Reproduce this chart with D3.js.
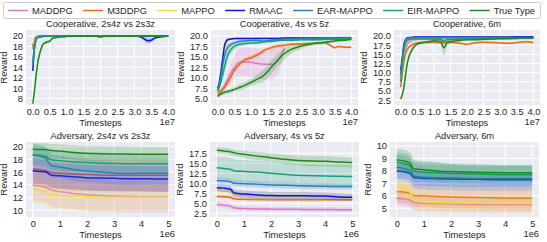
<!DOCTYPE html>
<html><head><meta charset="utf-8">
<script src="https://cdn.jsdelivr.net/npm/d3@7"></script>
<style>
body{margin:0;background:#fff}
svg{display:block}
text{font-family:"Liberation Sans",Arial,sans-serif;fill:#262626;font-size:9.3px}
</style>
</head><body>
<svg id="chart" width="547" height="242"></svg>
<script>
// ---------------- DATA ----------------
const methods = ["MADDPG","M3DDPG","MAPPO","RMAAC","EAR-MAPPO","EIR-MAPPO","True Type"];
const colors  = ["#dc78c2","#e8691c","#f2df3a","#0b16e6","#2a7fc0","#14a07a","#188c18"];

const panelTitles = ["Cooperative, 2s4z vs 2s3z","Cooperative, 4s vs 5z","Cooperative, 6m",
                     "Adversary, 2s4z vs 2s3z","Adversary, 4s vs 5z","Adversary, 6m"];

// timesteps (x1e7) for cooperative runs, (x1e6) for adversary runs
const coopX = [0,0.05,0.1,0.15,0.2,0.25,0.3,0.4,0.5,0.6,0.8,1.0,1.2,1.3,1.4,1.6,1.8,2.0,2.2,2.5,2.8,3.0,3.2,3.4,3.5,3.6,3.8,4.0];
const advX  = [0,0.25,0.5,0.6,0.7,1,1.5,2,2.5,3,3.5,4,4.5,5];

const coopXTicks = [0,0.5,1,1.5,2,2.5,3,3.5,4];
const advXTicks  = [0,1,2,3,4,5];
const yTicks = [
  [8,10,12,14,16,18,20],
  [5,7.5,10,12.5,15,17.5,20],
  [2.5,5,7.5,10,12.5,15,17.5,20],
  [10,12,14,16,18,20],
  [2.5,5,7.5,10,12.5,15,17.5],
  [5,6,7,8,9,10]
];

// ---- Cooperative, 2s4z vs 2s3z (mean) in method order
const coop2s4zMean = [
 [17.5,19.3,19.8,19.9,20,20,20,20,20,20,20,20,20,20,20,20,20,19.9,20,20,20,20,20,20,20,20,20,20],
 [18,19.4,19.8,19.95,20,20,20,20,20,20,20,20,20,20,20,20,20,19.9,20,20,20,20,20,20,20,20,20,20],
 [18.5,19.2,19.6,19.8,19.9,19.95,20,20,20,20,20,20,20,20,20,20,20,19.9,20,20,20,20,20,20,20,20,19.9,20],
 [13.3,17.5,19.4,19.7,19.8,19.85,19.9,19.95,20,20,20,20,20,20,20,20,20,19.9,20,20,19.95,20,19.8,19.1,19.2,19.6,19.85,20],
 [14.5,18.2,19.5,19.8,19.9,20,20,20,20,20,20,20,20,20,20,20,20,19.9,20,20,20,20,20,20,20,20,20,20],
 [15,17.8,19.3,19.7,19.9,19.95,20,20,20,20,20,20,20,20,20,20,20,19.9,20,20,20,20,20,20,20,20,20,20],
 [7,9.5,12.5,15,16.5,17.6,18.4,18.8,19.0,19.6,19.8,19.9,20,20,20,20,20,19.9,20,20,20,20,20,20,20,20,20,20]
];
const coop2s4zStd = [
 [0.4,0.3,0.1,0.1,0.1,0.1,0.1,0.1,0.1,0.1,0.1,0.1,0.1,0.1,0.1,0.1,0.1,0.1,0.1,0.1,0.1,0.1,0.1,0.1,0.1,0.1,0.1,0.1],
 [0.4,0.3,0.1,0.1,0.1,0.1,0.1,0.1,0.1,0.1,0.1,0.1,0.1,0.1,0.1,0.1,0.1,0.1,0.1,0.1,0.1,0.1,0.1,0.1,0.1,0.1,0.1,0.1],
 [0.4,0.3,0.2,0.1,0.1,0.1,0.1,0.1,0.1,0.1,0.1,0.1,0.1,0.1,0.1,0.1,0.1,0.1,0.1,0.1,0.1,0.1,0.1,0.1,0.1,0.1,0.1,0.1],
 [0.6,0.6,0.3,0.2,0.1,0.1,0.1,0.1,0.1,0.1,0.1,0.1,0.1,0.1,0.1,0.1,0.1,0.1,0.1,0.1,0.1,0.1,0.3,0.6,0.5,0.3,0.1,0.1],
 [0.6,0.5,0.3,0.2,0.1,0.1,0.1,0.1,0.1,0.1,0.1,0.1,0.1,0.1,0.1,0.1,0.1,0.1,0.1,0.1,0.1,0.1,0.1,0.1,0.1,0.1,0.1,0.1],
 [0.6,0.5,0.3,0.2,0.1,0.1,0.1,0.1,0.1,0.1,0.1,0.1,0.1,0.1,0.1,0.1,0.1,0.1,0.1,0.1,0.1,0.1,0.1,0.1,0.1,0.1,0.1,0.1],
 [0.3,0.5,0.6,0.6,0.5,0.4,0.3,0.3,0.3,0.2,0.1,0.1,0.1,0.1,0.1,0.1,0.1,0.1,0.1,0.1,0.1,0.1,0.1,0.1,0.1,0.1,0.1,0.1]
];

// ---- Cooperative, 4s vs 5z
const coop4sMean = [
 [5.5,6.0,6.5,7.2,8.0,8.8,9.6,11.2,12.5,13.5,13.8,13.7,13.4,13.3,13.2,13.2,14.2,17.0,null,null,null,null,null,null,null,null,null,null],
 [6.0,6.5,7.0,7.3,7.6,8.2,8.8,10.3,11.8,12.8,14.2,14.8,15.5,16.0,16.6,17.2,17.6,17.8,18.0,18.1,18.2,18.3,18.4,17.6,17.2,17.5,17.3,17.3],
 [6.5,8.0,10.0,13.0,15.8,17.6,18.6,19.2,19.3,19.4,19.4,19.4,19.5,19.5,19.5,19.5,19.5,19.5,19.5,19.5,19.5,19.5,19.5,19.5,19.5,19.5,19.5,19.5],
 [7.5,9.0,11.5,14.5,17.5,18.7,19.1,19.3,19.4,19.4,19.4,19.4,19.4,19.4,19.4,19.4,19.4,19.5,19.5,19.5,19.5,19.5,19.5,19.5,19.5,19.6,19.6,19.6],
 [7.1,8.5,10.5,13.0,15.0,16.4,17.2,18.0,18.4,18.6,18.8,18.9,18.9,18.8,18.8,19.0,19.1,19.3,19.3,19.4,19.4,19.4,19.5,19.5,19.5,19.5,19.6,19.6],
 [6.7,7.8,9.2,10.7,12.5,14.0,15.4,16.8,17.5,17.9,18.2,18.3,18.4,18.5,18.6,18.7,18.9,19.0,19.0,19.1,19.1,19.1,19.2,19.2,19.2,19.2,19.3,19.3],
 [5.5,5.8,6.1,6.3,6.5,6.6,6.7,6.9,7.2,7.5,8.1,8.9,9.7,10.1,10.7,12.5,14.2,15.8,16.8,17.6,18.1,18.3,18.5,18.7,18.8,18.9,19.0,19.2]
];
const coop4sStd = [
 [0.3,0.4,0.5,0.7,1.0,1.3,1.6,2.2,2.8,3.2,3.5,3.6,3.6,3.6,3.6,3.6,3.2,1.0,null,null,null,null,null,null,null,null,null,null],
 [0.5,0.6,0.7,0.7,0.8,0.8,0.8,0.8,0.8,0.7,0.6,0.6,0.6,0.6,0.6,0.5,0.5,0.5,0.4,0.3,0.3,0.3,0.3,0.3,0.3,0.3,0.3,0.3],
 [0.3,0.3,0.3,0.3,0.3,0.3,0.3,0.2,0.2,0.2,0.2,0.2,0.2,0.2,0.2,0.2,0.2,0.2,0.2,0.2,0.2,0.2,0.2,0.2,0.2,0.2,0.2,0.2],
 [0.3,0.5,0.8,0.8,0.6,0.4,0.3,0.2,0.2,0.2,0.2,0.2,0.2,0.2,0.2,0.2,0.2,0.2,0.2,0.2,0.2,0.2,0.2,0.2,0.2,0.2,0.2,0.2],
 [0.3,0.6,1.0,1.2,1.2,1.0,0.8,0.6,0.5,0.4,0.3,0.3,0.3,0.3,0.3,0.3,0.3,0.3,0.3,0.3,0.3,0.3,0.3,0.3,0.3,0.3,0.3,0.3],
 [0.3,0.6,1.0,1.3,1.5,1.5,1.3,1.0,0.8,0.6,0.5,0.4,0.4,0.4,0.4,0.4,0.3,0.3,0.3,0.3,0.3,0.3,0.3,0.3,0.3,0.3,0.3,0.3],
 [0.3,0.4,0.5,0.5,0.5,0.5,0.5,0.6,0.6,0.7,0.8,0.9,1.1,1.3,1.5,1.6,1.6,1.4,1.0,0.7,0.5,0.4,0.4,0.4,0.4,0.4,0.4,0.4]
];

// ---- Cooperative, 6m
const coop6mMean = [
 [8.5,11.5,14.5,16.5,17.8,18.3,18.6,18.9,19.1,19.2,19.2,19.3,19.3,19.3,19.3,19.3,19.3,19.3,19.3,19.3,19.4,19.4,19.4,19.4,19.4,19.4,19.4,19.4],
 [6.0,9.5,13.0,15.2,16.3,16.9,17.3,17.8,18.1,18.2,18.2,18.3,18.2,18.2,18.3,18.2,18.0,17.7,18.1,18.3,18.2,18.1,18.0,18.1,18.2,18.3,18.4,18.2],
 [8.0,12.0,15.5,17.5,18.5,18.8,19.0,19.1,19.2,19.2,19.2,19.3,19.3,19.3,19.3,19.3,19.3,19.3,19.3,19.3,19.3,19.3,19.3,19.3,19.3,19.3,19.3,19.3],
 [10.6,14.0,17.7,19.0,19.5,19.6,19.6,19.7,19.7,19.7,19.7,19.7,19.7,19.7,19.7,19.7,19.7,19.7,19.7,19.7,19.7,19.7,19.7,19.8,19.8,19.8,19.8,19.8],
 [9.5,13.5,17.0,18.8,19.3,19.4,19.5,19.5,19.5,19.5,19.5,19.5,19.5,19.5,19.5,19.5,19.5,19.5,19.5,19.5,19.5,19.6,19.6,19.6,19.6,19.6,19.6,19.6],
 [7.5,12.0,16.0,18.0,18.8,19.0,19.1,19.2,19.2,19.2,19.2,19.2,19.1,18.6,19.0,19.1,19.2,19.2,19.2,19.3,19.3,19.3,19.3,19.3,19.3,19.4,19.4,19.4],
 [2.8,4.0,6.0,9.5,12.5,14.3,15.5,17.0,17.8,18.1,18.4,18.7,18.6,16.8,18.1,18.6,18.8,19.0,19.0,19.1,19.2,19.3,19.3,19.4,19.4,19.5,19.5,19.6]
];
const coop6mStd = [
 [0.6,0.8,0.9,0.9,0.8,0.8,0.7,0.6,0.5,0.5,0.4,0.3,0.3,0.3,0.3,0.3,0.3,0.3,0.3,0.3,0.3,0.3,0.3,0.3,0.3,0.3,0.3,0.3],
 [0.5,0.6,0.6,0.5,0.5,0.4,0.3,0.3,0.3,0.3,0.3,0.3,0.3,0.3,0.3,0.3,0.3,0.3,0.3,0.3,0.3,0.3,0.3,0.3,0.3,0.3,0.3,0.3],
 [0.5,0.6,0.6,0.5,0.4,0.4,0.4,0.4,0.4,0.4,0.4,0.3,0.3,0.3,0.3,0.3,0.3,0.3,0.3,0.3,0.3,0.3,0.3,0.3,0.3,0.3,0.3,0.3],
 [0.5,0.6,0.5,0.3,0.2,0.2,0.2,0.2,0.2,0.2,0.2,0.2,0.2,0.2,0.2,0.2,0.2,0.2,0.2,0.2,0.2,0.2,0.2,0.2,0.2,0.2,0.2,0.2],
 [0.5,0.6,0.5,0.3,0.2,0.2,0.2,0.2,0.2,0.2,0.2,0.2,0.2,0.2,0.2,0.2,0.2,0.2,0.2,0.2,0.2,0.2,0.2,0.2,0.2,0.2,0.2,0.2],
 [0.5,0.7,0.7,0.5,0.4,0.3,0.3,0.3,0.3,0.3,0.3,0.3,0.4,0.6,0.4,0.3,0.3,0.3,0.3,0.3,0.3,0.3,0.3,0.3,0.3,0.3,0.3,0.3],
 [0.3,0.5,0.7,0.9,0.9,0.8,0.7,0.5,0.4,0.4,0.3,0.4,0.8,2.2,1.0,0.4,0.3,0.3,0.3,0.3,0.3,0.3,0.3,0.3,0.3,0.3,0.3,0.3]
];

// ---- Adversary, 2s4z vs 2s3z
const adv2s4zMean = [
 [13.9,13.8,13.6,13.3,13.1,12.9,12.6,12.4,12.3,12.2,12.15,12.1,12.1,12.1],
 [16.5,16.4,16.2,16.0,15.9,15.8,15.7,15.6,15.55,15.5,15.5,15.5,15.5,15.5],
 [13.3,13.1,12.9,12.6,12.5,12.3,12.2,12.1,12.05,12.0,12.0,12.0,12.0,12.0],
 [16.2,16.1,16.0,15.7,15.5,15.4,15.25,15.1,15.05,15.0,14.95,14.95,14.9,14.9],
 [18.7,18.5,18.1,17.4,17.0,16.8,16.4,16.2,16.0,15.85,15.75,15.8,15.8,15.8],
 [18.7,18.6,18.4,18.1,17.95,17.8,17.6,17.5,17.4,17.35,17.3,17.3,17.3,17.3],
 [19.6,19.55,19.5,19.45,19.4,19.3,19.1,18.95,18.9,18.85,18.85,18.8,18.8,18.8]
];
const adv2s4zStd = [
 [2.5,2.5,2.5,2.5,2.5,2.5,2.5,2.5,2.5,2.5,2.5,2.5,2.5,2.5],
 [2.6,2.6,2.6,2.6,2.6,2.6,2.6,2.6,2.6,2.6,2.6,2.6,2.6,2.6],
 [2.2,2.2,2.2,2.2,2.2,2.2,2.2,2.2,2.2,2.2,2.2,2.2,2.2,2.2],
 [2.0,2.0,2.0,2.0,2.0,2.0,2.0,2.0,2.0,2.0,2.0,2.0,2.0,2.0],
 [1.8,1.8,1.8,1.8,1.8,1.8,1.8,1.8,1.8,1.8,1.8,1.8,1.8,1.8],
 [1.5,1.5,1.5,1.5,1.5,1.5,1.5,1.5,1.5,1.5,1.5,1.5,1.5,1.5],
 [1.0,1.0,1.0,1.0,1.0,1.1,1.1,1.2,1.2,1.2,1.2,1.2,1.2,1.2]
];

// ---- Adversary, 4s vs 5z
const adv4sMean = [
 [4.7,4.55,4.3,3.95,3.8,3.7,3.6,3.55,3.5,3.5,3.45,3.45,3.4,3.4],
 [6.7,6.65,6.5,6.2,6.1,6.0,5.95,5.9,5.9,5.9,5.9,5.9,5.9,5.9],
 [8.2,8.1,7.9,7.4,7.2,7.0,6.9,6.8,6.8,6.75,6.7,6.7,6.65,6.6],
 [8.9,8.8,8.5,7.8,7.5,7.3,7.1,6.95,6.9,6.9,6.85,6.8,6.6,6.5],
 [10.7,10.6,10.4,10.1,10.0,9.9,9.75,9.6,9.5,9.4,9.3,9.25,9.2,9.2],
 [13.9,13.7,13.5,13.2,13.1,13.0,12.8,12.5,12.25,12.0,11.9,11.8,11.75,11.7],
 [18.3,18.1,17.9,17.7,17.55,17.25,16.8,16.4,16.0,15.7,15.55,15.5,15.35,15.2]
];
const adv4sStd = [
 [0.7,0.7,0.7,0.6,0.6,0.6,0.6,0.6,0.6,0.6,0.6,0.6,0.6,0.6],
 [0.4,0.4,0.4,0.4,0.4,0.4,0.4,0.4,0.4,0.4,0.4,0.4,0.4,0.4],
 [1.0,1.0,1.0,1.0,1.0,1.0,1.0,1.0,1.0,1.0,1.0,1.0,1.0,1.0],
 [0.9,0.9,0.9,0.9,0.9,0.9,0.9,0.9,0.9,0.9,0.9,0.9,0.9,0.9],
 [0.8,0.8,0.8,0.8,0.8,0.8,0.8,0.8,0.8,0.8,0.8,0.8,0.8,0.8],
 [2.8,2.8,2.8,2.8,2.8,2.8,2.8,2.8,2.8,2.8,2.8,2.8,2.8,2.8],
 [0.8,0.8,0.8,0.8,0.8,0.9,1.0,1.1,1.2,1.2,1.3,1.3,1.3,1.3]
];

// ---- Adversary, 6m
const adv6mMean = [
 [5.8,5.75,5.65,5.5,5.45,5.4,5.38,5.35,5.33,5.32,5.3,5.3,5.3,5.3],
 [6.35,6.3,6.2,6.05,6.0,6.0,5.95,5.9,5.88,5.86,5.84,5.82,5.8,5.8],
 [6.7,6.5,6.3,5.85,5.6,5.5,5.47,5.45,5.43,5.42,5.41,5.4,5.4,5.4],
 [8.0,7.95,7.8,7.5,7.45,7.4,7.38,7.35,7.33,7.32,7.3,7.3,7.3,7.3],
 [8.3,8.2,8.0,7.65,7.55,7.5,7.45,7.45,7.42,7.4,7.4,7.4,7.4,7.4],
 [8.7,8.6,8.4,8.0,7.95,7.9,7.85,7.8,7.78,7.75,7.72,7.7,7.7,7.7],
 [8.9,8.8,8.6,8.2,8.15,8.1,8.0,7.95,7.92,7.9,7.88,7.86,7.85,7.85]
];
const adv6mStd = [
 [0.6,0.6,0.6,0.6,0.6,0.6,0.6,0.6,0.6,0.6,0.6,0.6,0.6,0.6],
 [0.9,0.9,0.9,0.9,0.9,0.9,0.9,0.9,0.9,0.9,0.9,0.9,0.9,0.9],
 [0.8,0.8,0.8,0.8,0.8,0.8,0.8,0.8,0.8,0.8,0.8,0.8,0.8,0.8],
 [0.6,0.6,0.6,0.6,0.6,0.6,0.6,0.6,0.6,0.6,0.6,0.6,0.6,0.6],
 [1.0,1.0,1.0,1.0,1.0,1.0,1.0,1.0,1.0,1.0,1.0,1.0,1.0,1.0],
 [0.8,0.8,0.8,0.8,0.8,0.8,0.8,0.8,0.8,0.8,0.8,0.8,0.8,0.8],
 [0.9,0.9,0.9,0.8,0.7,0.7,0.7,0.6,0.6,0.6,0.6,0.6,0.6,0.6]
];

// ---------------- LAYOUT ----------------
const layout = [
  {l:26, r:175, t:30, b:105, yd:[6.76,21.15], xd:[-0.2,4.2], off:"1e7"},
  {l:211,r:358, t:30, b:105, yd:[3.45,21.44], xd:[-0.2,4.2], off:"1e7"},
  {l:394,r:540, t:30, b:105, yd:[1.15,21.64], xd:[-0.2,4.2], off:"1e7"},
  {l:26, r:175, t:142,b:217, yd:[8.9,20.74],  xd:[-0.25,5.25], off:"1e6"},
  {l:210,r:359, t:142,b:217, yd:[1.58,20.33], xd:[-0.25,5.25], off:"1e6"},
  {l:390,r:539, t:142,b:217, yd:[4.30,10.32], xd:[-0.25,5.25], off:"1e6"}
];
const panelMeans = [coop2s4zMean, coop4sMean, coop6mMean, adv2s4zMean, adv4sMean, adv6mMean];
const panelStds  = [coop2s4zStd, coop4sStd, coop6mStd, adv2s4zStd, adv4sStd, adv6mStd];
const panelXs    = [coopX, coopX, coopX, advX, advX, advX];
const panelXTicks= [coopXTicks, coopXTicks, coopXTicks, advXTicks, advXTicks, advXTicks];

const svg = d3.select("#chart");
const defs = svg.append("defs");

layout.forEach((L, pi) => {
  const g = svg.append("g");
  const x = d3.scaleLinear().domain(L.xd).range([L.l, L.r]);
  const y = d3.scaleLinear().domain(L.yd).range([L.b, L.t]);
  const cid = "clip" + pi;
  defs.append("clipPath").attr("id", cid).append("rect")
    .attr("x", L.l).attr("y", L.t).attr("width", L.r - L.l).attr("height", L.b - L.t);

  g.append("rect").attr("x", L.l).attr("y", L.t).attr("width", L.r - L.l).attr("height", L.b - L.t)
    .attr("fill", "#eaeaf2");

  const xt = panelXTicks[pi], yt = yTicks[pi];
  // grid
  g.append("g").selectAll("line").data(xt).join("line")
    .attr("x1", d => x(d)).attr("x2", d => x(d)).attr("y1", L.t).attr("y2", L.b)
    .attr("stroke", "#fff").attr("stroke-width", 1);
  g.append("g").selectAll("line").data(yt).join("line")
    .attr("y1", d => y(d)).attr("y2", d => y(d)).attr("x1", L.l).attr("x2", L.r)
    .attr("stroke", "#fff").attr("stroke-width", 1);

  // axes via d3 axis generators (no domain line / tick marks, seaborn darkgrid)
  const xFmt = pi < 3 ? d3.format(".1f") : d3.format("d");
  const yFmt = yt.some(v => v % 1 !== 0) ? d3.format(".1f") : d3.format("d");
  const xa = g.append("g").attr("transform", `translate(0,${L.b})`)
    .call(d3.axisBottom(x).tickValues(xt).tickFormat(xFmt).tickSize(0).tickPadding(3));
  const ya = g.append("g").attr("transform", `translate(${L.l},0)`)
    .call(d3.axisLeft(y).tickValues(yt).tickFormat(yFmt).tickSize(0).tickPadding(3));
  [xa, ya].forEach(a => {
    a.select(".domain").remove();
    a.selectAll("text").attr("fill", "#262626").style("font-size", "9.3px")
      .style("font-family", '"Liberation Sans",Arial,sans-serif');
  });

  // series
  const xs = panelXs[pi];
  const plot = g.append("g").attr("clip-path", `url(#${cid})`);
  methods.forEach((m, si) => {
    const mean = panelMeans[pi][si], sd = panelStds[pi][si];
    const pts = xs.map((xv, i) => ({x: xv, m: mean[i], s: sd[i]}));
    const area = d3.area().defined(d => d.m != null && d.s != null)
      .x(d => x(d.x)).y0(d => y(d.m - d.s)).y1(d => y(d.m + d.s)).curve(d3.curveMonotoneX);
    const line = d3.line().defined(d => d.m != null)
      .x(d => x(d.x)).y(d => y(d.m)).curve(d3.curveMonotoneX);
    plot.append("path").attr("d", area(pts)).attr("fill", colors[si]).attr("fill-opacity", 0.2);
    plot.append("path").attr("d", line(pts)).attr("fill", "none").attr("stroke", colors[si])
      .attr("stroke-width", 1.5);
  });

  // title
  g.append("text").attr("x", (L.l + L.r) / 2).attr("y", L.t - 3)
    .attr("text-anchor", "middle").text(panelTitles[pi]);
  // x label
  g.append("text").attr("x", (L.l + L.r) / 2).attr("y", L.b + 21)
    .attr("text-anchor", "middle").text("Timesteps");
  // offset text
  g.append("text").attr("x", L.r).attr("y", L.b + 20)
    .attr("text-anchor", "end").text(L.off);
  // y label
  let maxW = 0;
  ya.selectAll("text").each(function(){ maxW = Math.max(maxW, this.getComputedTextLength()); });
  const yx = L.l - 3 - maxW - 6;
  g.append("text").attr("transform", `translate(${yx},${(L.t + L.b) / 2}) rotate(-90)`)
    .attr("text-anchor", "middle").text("Reward");
});

// ---------------- LEGEND ----------------
const leg = svg.append("g");
leg.append("rect").attr("x", 3.5).attr("y", 2.5).attr("width", 537).attr("height", 16)
  .attr("rx", 2).attr("fill", "#fff").attr("fill-opacity", 0.8).attr("stroke", "#cccccc").attr("stroke-width", 1);
const items = leg.selectAll("g.it").data(methods).join("g").attr("class", "it");
items.append("line").attr("stroke", (d, i) => colors[i]).attr("stroke-width", 1.5);
items.append("text").text(d => d).attr("y", 13.8);
const widths = [];
items.select("text").each(function(){ widths.push(this.getComputedTextLength()); });
const startX = 8, lineLen = 20, pad = 4, endX = 535;
const total = widths.reduce((a, b) => a + b, 0) + methods.length * (lineLen + pad);
const gap = (endX - startX - total) / (methods.length - 1);
let cx = startX;
items.each(function(d, i){
  const s = d3.select(this);
  s.select("line").attr("x1", cx).attr("x2", cx + lineLen).attr("y1", 10.5).attr("y2", 10.5);
  s.select("text").attr("x", cx + lineLen + pad);
  cx += lineLen + pad + widths[i] + gap;
});
</script>
</body></html>
